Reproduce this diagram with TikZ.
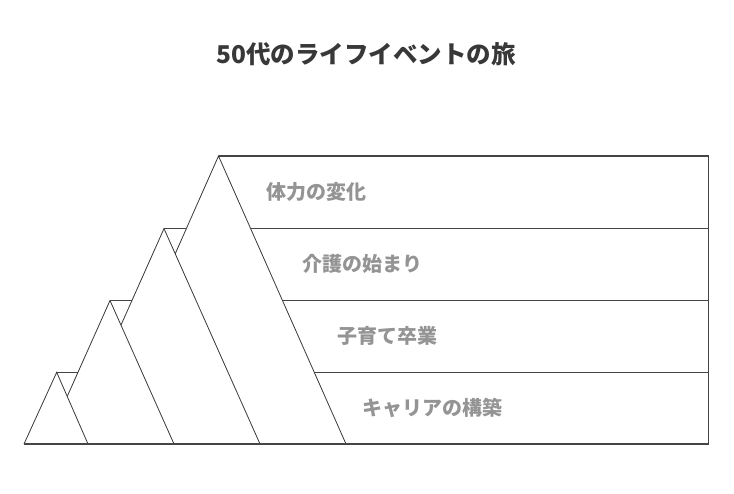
\documentclass[tikz,border=0pt]{standalone}
\usepackage{fontspec}
\setmainfont{Noto Sans CJK JP}
\begin{document}
\begin{tikzpicture}[x=1pt,y=-1pt,
  bandline/.style={draw=black!73,line width=1.3pt},
  peak/.style={draw=black!78,line width=0.8pt,fill=white,line join=miter},
  lbl/.style={anchor=west,inner sep=0pt,text=black!42,font=\fontsize{20}{22}\selectfont\bfseries},
  ttl/.style={inner sep=0pt,text=black!78,font=\fontsize{24.5}{28}\selectfont\bfseries}]
\fill[white] (0,0) rectangle (734,494);
\useasboundingbox (0,0) rectangle (734,494);
% coordinates
\coordinate (A1) at (56.7,372.3);
\coordinate (A2) at (110,300.5);
\coordinate (A3) at (164,228.6);
\coordinate (A4) at (218.5,156);
\coordinate (L1) at (24,444);
\coordinate (R1) at (88,444);
\coordinate (L2) at (46,444);
\coordinate (R2) at (174,444);
\coordinate (L3) at (68,444);
\coordinate (R3) at (260,444);
\coordinate (L4) at (91,444);
\coordinate (R4) at (346,444);
\coordinate (E1) at (708.3,372.3);
\coordinate (E2) at (708.3,300.5);
\coordinate (E3) at (708.3,228.6);
\coordinate (E4) at (708.3,156);
\coordinate (E0) at (708.3,444);
% band lines
\draw[bandline] (A4) -- (E4) -- (E0) -- (L1);
\draw[bandline] (A3) -- (E3);
\draw[bandline] (A2) -- (E2);
\draw[bandline] (A1) -- (E1);
% peaks, largest first
\draw[peak] (L4) -- (A4) -- (R4);
\draw[peak] (L3) -- (A3) -- (R3);
\draw[peak] (L2) -- (A2) -- (R2);
\draw[peak] (L1) -- (A1) -- (R1);
\draw[bandline] (L1) -- (E0);
% labels
\node[ttl] (title) at (366,54) {50代のライフイベントの旅};
\node[lbl] (t4) at (266,192) {体力の変化};
\node[lbl] (t3) at (302.5,263.5) {介護の始まり};
\node[lbl] (t2) at (337.5,336) {子育て卒業};
\node[lbl] (t1) at (362.5,407.5) {キャリアの構築};
\end{tikzpicture}
\end{document}
